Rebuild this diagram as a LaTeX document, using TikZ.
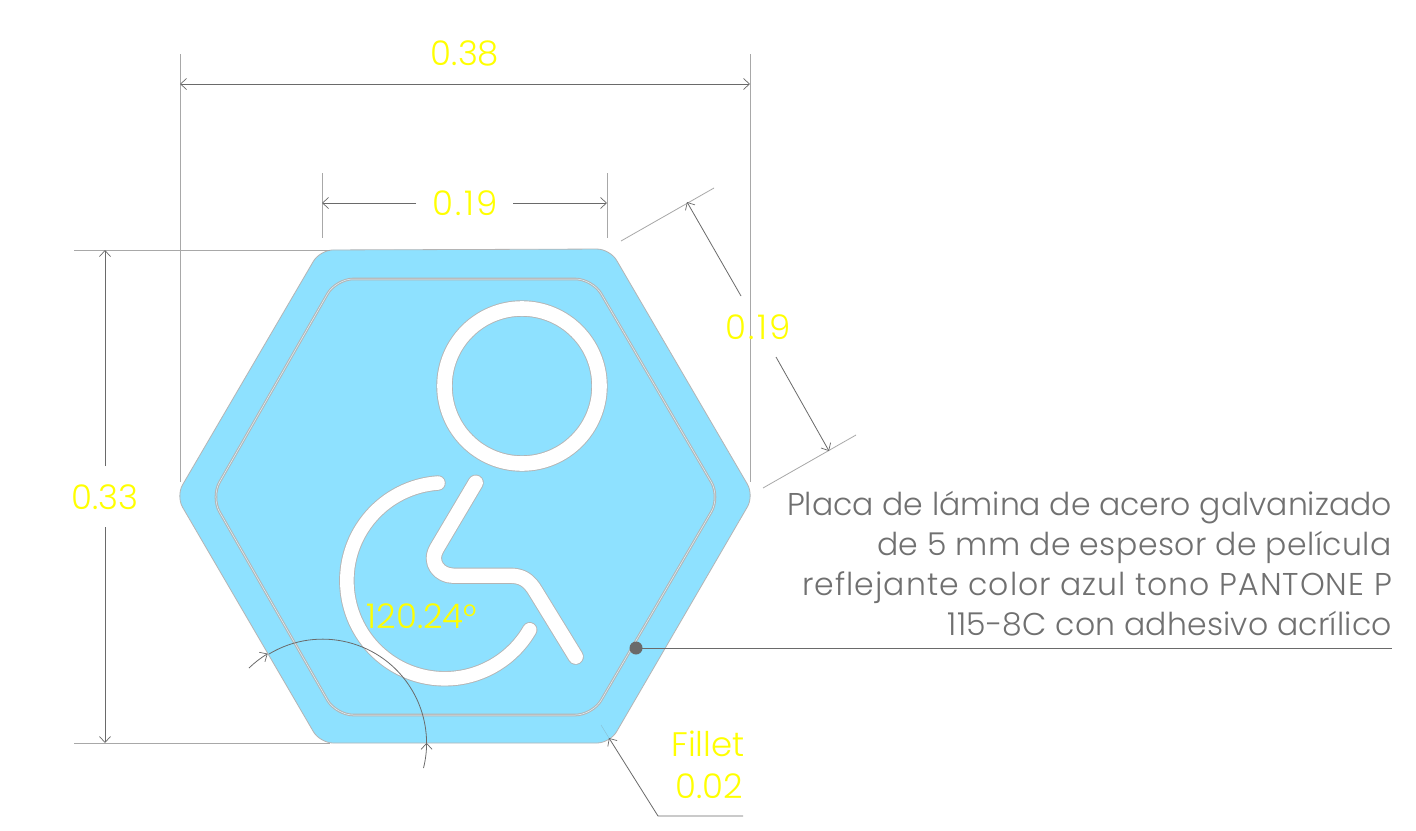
\documentclass[tikz,border=0pt]{standalone}
\usepackage{fontspec}
\usetikzlibrary{arrows.meta}
\newfontfamily\lightfont{Poppins Light}
\newfontfamily\spacedfont[LetterSpace=7]{Poppins Light}
\definecolor{plate}{HTML}{8EE1FF}
\definecolor{edge}{HTML}{B4B4B4}
\definecolor{dimc}{HTML}{6A6A6A}
\definecolor{extc}{HTML}{A8A8A8}
\definecolor{noteink}{HTML}{707070}
\definecolor{dimtext}{HTML}{FFFF00}
\newcommand{\tracked}[2]{{\addfontfeature{LetterSpace=#1}#2}}
\tikzset{
  tipbarb/.tip={Straight Barb[length=6pt,width=11pt,line width=.7pt]},
  extline/.style={draw=extc,line width=.8pt},
  dimline/.style={draw=dimc,line width=.8pt,tipbarb-tipbarb},
  dimone/.style={draw=dimc,line width=.8pt,-tipbarb},
  thinline/.style={draw=dimc,line width=.8pt},
  dimlabel/.style={text=dimtext,font=\lightfont\fontsize{34}{34}\selectfont,inner sep=0pt,anchor=center},
  dimspaced/.style={dimlabel,font=\spacedfont\fontsize{34}{34}\selectfont},
  notelabel/.style={text=noteink,font=\lightfont\fontsize{31.5}{40}\selectfont,inner sep=0pt,align=right,anchor=north east},
}
\begin{document}
\begin{tikzpicture}[x=1pt,y=-1pt]
\useasboundingbox (0,0) rectangle (1416,830);
\fill[white] (0,0) rectangle (1416,830);
% plate
\draw[fill=plate,draw=edge,line width=.8pt,rounded corners=13pt]
  (320,250) -- (610,249) -- (754,495.5) -- (610,743) -- (320,743) -- (176,496) -- cycle;
% inner outline
\draw[draw=edge,line width=2.6pt,rounded corners=17pt]
  (336,279) -- (592.5,279) -- (720,497) -- (592.5,715) -- (336,715) -- (211,497) -- cycle;
\draw[draw=plate!30!white,line width=.5pt,rounded corners=17pt]
  (336,279) -- (592.5,279) -- (720,497) -- (592.5,715) -- (336,715) -- (211,497) -- cycle;
% head
\draw[draw=edge,line width=16.4pt] (522,386) circle[radius=77.5pt];
\draw[draw=white,line width=14.6pt] (522,386) circle[radius=77.5pt];
% wheel and chair
\draw[draw=edge,line width=15.4pt,line cap=round] (438,483) arc[start angle=94,end angle=330,radius=98pt];
\draw[draw=white,line width=13.6pt,line cap=round] (438,483) arc[start angle=94,end angle=330,radius=98pt];
\def\chairpath{(475.7,482.7) -- (437,548) .. controls (428,563) and (440,575.7) .. (453,575.7) -- (510,575.7) .. controls (522,575.7) and (529,580) .. (536,592) -- (575.7,656.7)}
\draw[draw=edge,line width=16.2pt,line cap=round,line join=round] \chairpath;
\draw[draw=white,line width=14.4pt,line cap=round,line join=round] \chairpath;
% width 0.38
\coordinate (wa) at (180,84); \coordinate (wb) at (750,84);
\draw[extline] (180,54) -- (180,482);
\draw[extline] (750,54) -- (750,482);
\draw[dimline] (wa) -- (wb);
\node[dimlabel] (w38) at (465,53) {0.38};
% side 0.19
\coordinate (sa) at (322,203); \coordinate (sb) at (607,203);
\draw[extline] (322,173) -- (322,238);
\draw[extline] (607,173) -- (607,238);
\node[dimspaced] (s19) at (465,203) {0.19};
\draw[dimone] (416,203) -- (sa);
\draw[dimone] (513,203) -- (sb);
% height 0.33
\draw[extline] (74,250) -- (330,250);
\draw[extline] (74,743) -- (330,743);
\node[dimlabel] (h33) at (105,497) {0.33};
\coordinate (ha) at (105,250); \coordinate (hb) at (105,743);
\draw[dimone] (105,466) -- (ha);
\draw[dimone] (105,527) -- (hb);
% slanted 0.19
\draw[extline] (621,241) -- (714,188);
\draw[extline] (763,488) -- (856,435);
\node[dimspaced] (d19) at (758,327) {0.19};
\coordinate (da) at (687,202); \coordinate (db) at (829,451);
\draw[dimone] (741,296) -- (da);
\draw[dimone] (776,357) -- (db);
% angle
\draw[thinline] (269,654) arc[start angle=121,end angle=0,radius=104pt];
\draw[dimone] (249,668) arc[start angle=134,end angle=121,radius=104pt];
\draw[dimone] (423.5,768) arc[start angle=-14,end angle=0,radius=104pt];
\node[dimlabel] (ang) at (422,616) {120.24°};
% fillet
\coordinate (fa) at (609,738); \coordinate (fb) at (658,816); \coordinate (fc) at (743,816);
\draw[draw=plate!70!gray,line width=.5pt] (601,725) -- (fa);
\draw[dimone] (fc) -- (fb) -- (fa);
\node[dimlabel] (fil) at (708,744) {Fillet};
\node[dimlabel] (fv) at (709,786) {0.02};
% leader
\node[circle,fill=dimc,minimum size=13pt,inner sep=0pt] (dot) at (636,648) {};
\coordinate (lend) at (1392,648);
\draw[thinline] (dot.center) -- (lend);
\node[notelabel] (note) at (1392,491.5) {Placa de lámina de acero galvanizado\\\tracked{1.3}{de 5 mm de espesor de película}\\\tracked{3.2}{reflejante color azul tono PANTONE P}\\\tracked{0.6}{115-8C con adhesivo acrílico}};
\end{tikzpicture}
\end{document}
